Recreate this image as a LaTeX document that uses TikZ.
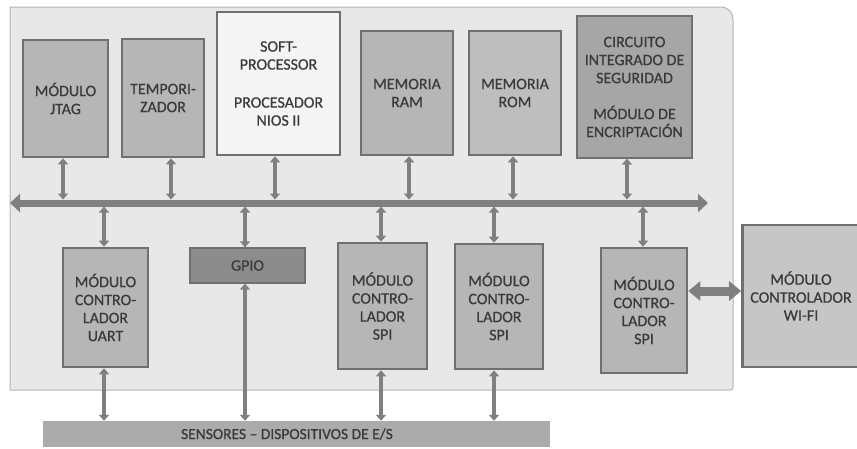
\documentclass[tikz,border=0pt]{standalone}
\usepackage{fontspec}
\setmainfont{Carlito}
\newfontfamily\lblfont{Carlito}[FakeBold=0.6,Ligatures=TeX]
\usetikzlibrary{arrows.meta}
\definecolor{panel}{HTML}{E8E8E8}
\definecolor{panelline}{HTML}{B4B4B4}
\definecolor{boxline}{HTML}{707070}
\definecolor{modfill}{HTML}{B6B6B6}
\definecolor{romfill}{HTML}{BEBEBE}
\definecolor{secfill}{HTML}{A6A6A6}
\definecolor{gpiofill}{HTML}{8C8C8C}
\definecolor{wififill}{HTML}{C6C6C6}
\definecolor{sensfill}{HTML}{ABABAB}
\definecolor{softfill}{HTML}{F5F5F5}
\definecolor{arrowgray}{HTML}{808080}
\definecolor{txt}{HTML}{3A3A3A}
\tikzset{
  blk/.style={draw=boxline, line width=2.6pt, fill=modfill, inner sep=0pt, align=center,
    text=txt, font=\lblfont\fontsize{16}{18}\selectfont},
  conn/.style={draw=arrowgray, line width=4.5pt,
    {Triangle[width=10pt,length=6pt]}-{Triangle[width=10pt,length=6pt]}},
  busline/.style={draw=arrowgray, line width=7pt,
    {Triangle[width=18pt,length=10pt]}-{Triangle[width=18pt,length=10pt]}},
  wideconn/.style={draw=arrowgray, line width=9pt,
    {Triangle[width=19pt,length=12pt]}-{Triangle[width=19pt,length=12pt]}}
}
\begin{document}
\begin{tikzpicture}[x=1pt,y=-1pt]
\useasboundingbox (0,0) rectangle (857,448);
% panel
\draw[fill=panel, draw=panelline, line width=1pt]
  (10,7) -- (721,7) arc[start angle=90, end angle=0, radius=12pt] -- (733,387) arc[start angle=0, end angle=-90, radius=3pt] -- (10,390) -- cycle;
% top row
\node[blk, minimum width=85pt, minimum height=117pt] (jtag) at (65.5,98.5) {MÓDULO\\JTAG};
\node[blk, minimum width=82pt, minimum height=118pt] (temp) at (163,98) {TEMPORI-\\ZADOR};
\node[blk, fill=softfill, minimum width=123pt, minimum height=143pt] (soft) at (278.5,83.5) {SOFT-\\PROCESSOR\\[20pt]PROCESADOR\\NIOS II};
\node[blk, minimum width=92pt, minimum height=124pt] (ram) at (407,93) {MEMORIA\\RAM};
\node[blk, fill=romfill, minimum width=92pt, minimum height=124pt] (rom) at (515,93) {MEMORIA\\ROM};
\node[blk, fill=secfill, line width=1.2pt, minimum width=115pt, minimum height=142pt] (sec) at (634.5,87) {CIRCUITO\\INTEGRADO DE\\SEGURIDAD\\[18pt]MÓDULO DE\\ENCRIPTACIÓN};
% bus
\coordinate (busL) at (10,203);
\coordinate (busR) at (708,203);
\draw[busline] (busL) -- (busR);
% bottom row
\node[blk, minimum width=85pt, minimum height=119pt] (uart) at (105.5,307.5) {MÓDULO\\CONTRO-\\LADOR\\UART};
\node[blk, fill=gpiofill, line width=1.2pt, minimum width=115pt, minimum height=35pt] (gpio) at (247.5,265.5) {GPIO};
\node[blk, minimum width=89pt, minimum height=126pt] (spia) at (382.5,306) {MÓDULO\\CONTRO-\\LADOR\\SPI};
\node[blk, minimum width=88pt, minimum height=125pt] (spib) at (499,306.5) {MÓDULO\\CONTRO-\\LADOR\\SPI};
\node[blk, minimum width=86pt, minimum height=125pt] (spic) at (644,310.5) {MÓDULO\\CONTRO-\\LADOR\\SPI};
\node[blk, fill=wififill, minimum width=117pt, minimum height=142pt] (wifi) at (801,296) {MÓDULO\\CONTROLADOR\\WI-FI};
\node[draw=none, fill=sensfill, minimum width=507pt, minimum height=26pt, inner sep=0pt,
  text=txt, font=\lblfont\fontsize{15.5}{17}\selectfont] (sens) at (296.5,434) {SENSORES – DISPOSITIVOS DE E/S\hspace*{19pt}};
% connectors top row to bus
\draw[conn, shorten >=3.5pt] ([xshift=-2.5pt]jtag.south) -- ([xshift=-2.5pt]jtag.south |- busL);
\draw[conn, shorten >=3.5pt] ([xshift=8pt]temp.south) -- ([xshift=8pt]temp.south |- busL);
\draw[conn, shorten >=3.5pt] ([xshift=-3.5pt]soft.south) -- ([xshift=-3.5pt]soft.south |- busL);
\draw[conn, shorten >=3.5pt] ([xshift=2pt]ram.south) -- ([xshift=2pt]ram.south |- busL);
\draw[conn, shorten >=3.5pt] ([xshift=-2pt]rom.south) -- ([xshift=-2pt]rom.south |- busL);
\draw[conn, shorten >=3.5pt] ([xshift=-7.5pt]sec.south) -- ([xshift=-7.5pt]sec.south |- busL);
% bus to bottom row
\draw[conn, shorten <=3.5pt] ([xshift=-1.5pt]uart.north |- busL) -- ([xshift=-1.5pt]uart.north);
\draw[conn, shorten <=3.5pt] ([xshift=-2.5pt]gpio.north |- busL) -- ([xshift=-2.5pt]gpio.north);
\draw[conn, shorten <=3.5pt] ([xshift=-1.5pt]spia.north |- busL) -- ([xshift=-1.5pt]spia.north);
\draw[conn, shorten <=3.5pt] ([xshift=-5pt]spib.north |- busL) -- ([xshift=-5pt]spib.north);
\draw[conn, shorten <=3.5pt] ([xshift=-1pt]spic.north |- busL) -- ([xshift=-1pt]spic.north);
% bottom row to sensors
\draw[conn] ([xshift=-1.5pt]uart.south) -- ([xshift=-1.5pt]uart.south |- sens.north);
\draw[conn] ([xshift=-2.5pt]gpio.south) -- ([xshift=-2.5pt]gpio.south |- sens.north);
\draw[conn] ([xshift=-1.5pt]spia.south) -- ([xshift=-1.5pt]spia.south |- sens.north);
\draw[conn] ([xshift=-5pt]spib.south) -- ([xshift=-5pt]spib.south |- sens.north);
% wifi link
\draw[wideconn] ([yshift=5pt]spic.east |- wifi.west) -- ([yshift=5pt]wifi.west);
\end{tikzpicture}
\end{document}
